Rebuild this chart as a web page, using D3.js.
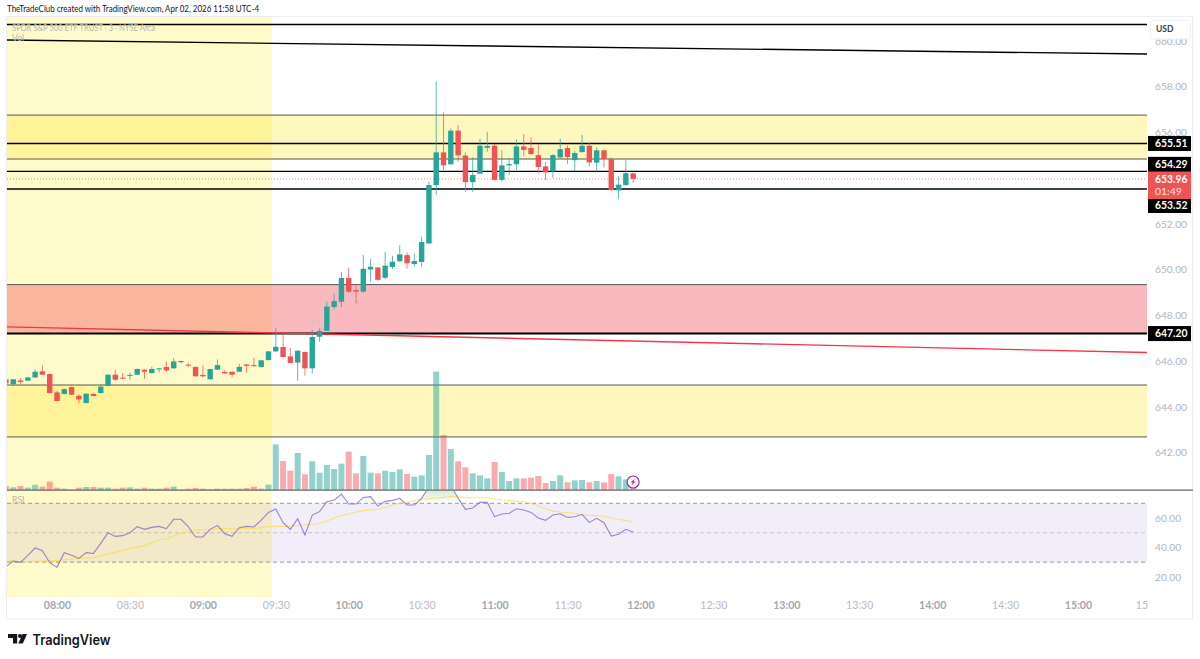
<!DOCTYPE html>
<html><head><meta charset="utf-8">
<script src="https://cdnjs.cloudflare.com/ajax/libs/d3/7.8.5/d3.min.js"></script>
<style>html,body{margin:0;padding:0;background:#fff}svg{display:block}</style>
</head><body><svg id="c" width="1200" height="659"></svg>
<script>
const firstBarMinute = 459, barMinutes = 3;
const opens=[645.20,644.99,645.15,645.14,645.28,645.55,645.43,644.63,644.56,644.86,644.48,644.16,644.56,644.60,644.91,645.40,645.27,645.36,645.40,645.62,645.47,645.65,645.74,645.68,645.95,645.84,645.74,645.39,645.20,645.62,645.52,645.53,645.53,645.85,645.82,645.74,646.04,646.42,646.61,646.20,645.93,646.39,645.68,647.06,647.32,648.36,648.59,649.63,649.10,649.03,650.00,650.09,649.64,650.11,650.36,650.63,650.24,650.33,651.14,653.69,655.12,654.60,656.07,654.98,653.82,654.19,655.32,655.41,653.92,654.55,654.60,655.38,655.31,655.00,654.51,654.29,654.90,655.31,654.78,655.13,655.41,654.67,655.21,654.83,653.46,653.69,654.20];
const highs=[645.23,645.20,645.24,645.31,645.63,645.81,645.45,644.70,644.80,644.88,644.56,644.58,644.59,645.00,645.43,645.63,645.47,645.49,645.67,645.64,645.75,645.69,645.98,646.14,646.01,645.93,645.77,645.81,645.66,646.07,645.60,645.55,645.87,645.87,646.14,646.04,646.43,647.44,647.18,646.57,646.46,646.41,647.35,647.43,648.59,648.96,649.89,650.09,649.35,650.63,650.46,650.11,650.78,650.60,651.07,650.75,650.69,651.43,653.84,658.21,656.87,656.17,656.31,655.12,654.90,655.72,656.02,655.49,655.22,654.86,655.69,655.92,655.77,655.47,654.71,655.05,655.73,655.42,655.18,655.88,655.56,655.34,655.23,654.90,654.08,654.79,654.24];
const lows=[644.99,644.91,644.99,645.12,645.27,645.39,644.58,644.24,644.54,644.51,644.15,644.15,644.46,644.58,644.89,645.12,645.20,645.17,645.39,645.23,645.46,645.50,645.52,645.66,645.90,645.75,645.31,645.28,645.18,645.60,645.43,645.28,645.52,645.49,645.74,645.72,646.03,646.39,646.16,645.90,645.14,645.36,645.46,646.84,647.31,648.26,648.36,648.98,648.55,648.98,649.47,649.51,649.57,650.03,650.34,650.03,650.12,650.12,651.10,653.26,654.35,654.58,654.71,653.40,653.40,654.17,655.15,653.89,653.84,654.13,654.35,654.96,655.00,654.20,653.91,654.01,654.88,654.61,654.30,655.11,654.49,654.27,654.46,653.45,653.09,653.67,653.79];
const closes=[645.02,645.20,645.08,645.28,645.53,645.40,644.60,644.25,644.77,644.53,644.32,644.57,644.47,644.88,645.40,645.18,645.23,645.39,645.65,645.53,645.65,645.68,645.59,645.98,646.00,645.81,645.33,645.33,645.65,645.82,645.46,645.40,645.74,645.79,645.78,646.03,646.42,646.62,646.17,645.91,646.45,645.68,647.05,647.31,648.38,648.62,649.63,649.03,649.03,650.03,650.12,649.55,650.17,650.34,650.66,650.27,650.37,651.20,653.69,655.12,654.55,656.07,654.99,653.82,654.13,655.41,655.40,653.91,654.55,654.61,655.38,655.23,655.05,654.48,654.24,655.00,655.26,654.92,655.09,655.41,654.68,655.21,654.83,653.47,653.71,654.21,653.96];
const volumes=[12,8,12,7,16,10,25,7,4,1,7,9,9,7,7,4,7,8,4,7,4,4,7,10,1,4,6,4,2,4,4,4,4,6,10,4,16,137,87,58,111,47,86,52,75,63,79,115,50,102,52,50,58,54,62,48,40,44,105,355,165,123,86,68,50,44,35,84,54,27,35,35,37,42,21,27,44,23,29,30,23,27,23,48,41,32,14];
const rsiValues=[26.9,30.7,29.8,34.6,39.6,37.8,29.6,26.6,36.4,34.6,32.5,36.4,35.9,42.7,50,47.5,48,50,54.1,52.3,53.6,54.3,52.7,59.1,59.1,54.1,47.1,47.1,52.3,55,49.3,47.5,53.4,54.3,53.9,58.6,63.8,66.1,56.8,52.3,59.5,48.4,62,64.3,71.1,72.2,76.3,69.5,69.5,74,74.5,68.1,71.3,72,73.4,68.8,68.8,73.4,81.3,85.8,84.7,82.4,73.4,65.9,66.8,70.6,70.6,60.9,62.7,63.2,66.3,65.4,63.8,60,58.4,62,62.9,60.4,60.9,62.5,57,59.8,56.8,47.7,48.9,52.3,50.5];
const rsiMa=[31.9,30.7,30,30.3,30.5,30.7,31,31.2,31.6,32.1,32.5,32.8,33,34.1,35.5,36.6,37.8,39.1,40.2,41.2,43,45,45.7,47.7,49.5,50.7,51.8,52,52.3,52.7,52.9,52.7,52.7,52.9,52.9,53.4,54.1,54.3,54.3,54.5,54.8,55.2,55.7,56.3,57.9,59.8,61.6,62.7,64.1,65,65.4,65.9,67.2,68.8,70,70.9,71.8,72.9,73.1,73.6,74,74.7,74.5,74,73.8,73.8,73.8,72.9,72.2,71.8,71.5,71.1,70,68.1,66.3,64.7,64.1,63.6,63.2,62.2,61.8,61.6,61.3,60.2,59.1,58.2,57.3];
const priceTicks=[660,658,656,654,652,650,648,646,644,642];
const rsiTicks=[60,40,20];
const rsiBands=[70,50,30];
const timeTicks=[480,510,540,570,600,630,660,690,720,750,780,810,840,870,900,930];
const timeLabels=["08:00","08:30","09:00","09:30","10:00","10:30","11:00","11:30","12:00","12:30","13:00","13:30","14:00","14:30","15:00","15"];
const yellowZones=[[656.75,654.83],[644.95,642.68]];
const pinkZone=[649.34,647.22];
const levelLines=[660.71,655.51,654.29,653.52,647.20];
const lastPrice=653.96;
const sessionEndMinute=568.4;
const blackTrend=[[459.4,660.03],[928.4,659.42]];
const redTrend=[[459.4,647.49],[928.4,646.37]];
const tags=[["655.51",655.51,0],["654.29",654.29,-7],["653.52",653.52,16.5],["647.20",647.20,0]];

const L=7,R=1147,T=17,PB=490,RB=597,FR=1193,FB=619.5;
const GREEN="#26a69a",RED="#f05353";
const FONT="Lato,sans-serif";
const svg=d3.select("#c").style("font-family",FONT);
const x=d3.scaleLinear().domain([480,900]).range([57,1078]);
const y=d3.scaleLinear().domain([658,642]).range([86.5,452.5]);
const vy=d3.scaleLinear().domain([0,355]).range([PB,371.7]);
const ry=d3.scaleLinear().domain([70,30]).range([503.3,562.1]);
const bars=opens.map((o,i)=>({t:firstBarMinute+i*barMinutes,o,h:highs[i],l:lows[i],c:closes[i],v:volumes[i],r:rsiValues[i],m:rsiMa[i]}));

const defs=svg.append("defs");
defs.append("clipPath").attr("id","main").append("rect").attr("x",L).attr("y",T).attr("width",R-L).attr("height",PB-T);
defs.append("clipPath").attr("id","rsi").append("rect").attr("x",L).attr("y",PB+1).attr("width",R-L).attr("height",RB-PB-1);
const gr=defs.append("linearGradient").attr("id","ob").attr("gradientUnits","userSpaceOnUse").attr("x1",0).attr("x2",0).attr("y1",491).attr("y2",ry(70));
gr.append("stop").attr("offset",0).attr("stop-color","#4caf50").attr("stop-opacity",.22);
gr.append("stop").attr("offset",1).attr("stop-color","#4caf50").attr("stop-opacity",.02);

// header
svg.append("text").attr("x",7).attr("y",12).attr("font-size",9).attr("textLength",252).attr("lengthAdjust","spacingAndGlyphs").attr("fill","#131722").text("TheTradeClub created with TradingView.com, Apr 02, 2026 11:58 UTC-4");

// frame
svg.append("rect").attr("x",L-.5).attr("y",T-.5).attr("width",FR-L).attr("height",FB-T).attr("fill","#fff").attr("stroke","#eceef2");

// session rectangle
svg.append("rect").attr("x",L).attr("y",T).attr("width",x(sessionEndMinute)-L).attr("height",RB-T).attr("fill","#ffeb3b").attr("fill-opacity",.27);

const main=svg.append("g").attr("clip-path","url(#main)");
// zones
main.selectAll(".yz").data(yellowZones).join("rect").attr("x",L).attr("width",R-L)
  .attr("y",d=>y(d[0])).attr("height",d=>y(d[1])-y(d[0])).attr("fill","#ffeb3b").attr("fill-opacity",.33);
main.selectAll(".yzl").data(yellowZones.flat()).join("line").attr("x1",L).attr("x2",R).attr("y1",d=>y(d)).attr("y2",d=>y(d)).attr("stroke","#555").attr("stroke-width",1);
main.append("rect").attr("x",L).attr("width",R-L).attr("y",y(pinkZone[0])).attr("height",y(pinkZone[1])-y(pinkZone[0])).attr("fill","#f23645").attr("fill-opacity",.35);
main.append("line").attr("x1",L).attr("x2",R).attr("y1",y(pinkZone[0])).attr("y2",y(pinkZone[0])).attr("stroke","#555");

// volume
main.selectAll(".vol").data(bars).join("rect").attr("x",d=>x(d.t)-3).attr("width",6)
  .attr("y",d=>vy(d.v)).attr("height",d=>PB-vy(d.v))
  .attr("fill",d=>d.c>=d.o?"#26a69a":"#f23645").attr("fill-opacity",d=>d.c>=d.o?.5:.42);

// levels and trend lines
main.selectAll(".lvl").data(levelLines).join("line").attr("x1",L).attr("x2",R).attr("y1",d=>y(d)).attr("y2",d=>y(d))
  .attr("stroke","#000").attr("stroke-width",d=>d===647.20?2:1.4);
const tl=d3.line().x(d=>x(d[0])).y(d=>y(d[1]));
main.append("path").attr("d",tl(blackTrend)).attr("stroke","#000").attr("stroke-width",1.4).attr("fill","none");
main.append("path").attr("d",tl(redTrend)).attr("stroke","#f23645").attr("stroke-width",1.4).attr("fill","none");
main.append("line").attr("x1",L).attr("x2",R).attr("y1",y(lastPrice)).attr("y2",y(lastPrice)).attr("stroke",RED).attr("stroke-opacity",.7).attr("stroke-dasharray","1 2");

// candles
main.selectAll(".wick").data(bars).join("line").attr("x1",d=>x(d.t)).attr("x2",d=>x(d.t)).attr("y1",d=>y(d.h)).attr("y2",d=>y(d.l))
  .attr("stroke",d=>d.c>=d.o?GREEN:RED).attr("stroke-opacity",.75).attr("stroke-width",1);
main.selectAll(".body").data(bars).join("rect").attr("x",d=>x(d.t)-2.7).attr("width",5.4)
  .attr("y",d=>y(Math.max(d.o,d.c))).attr("height",d=>Math.max(1,Math.abs(y(d.o)-y(d.c))))
  .attr("fill",d=>d.c>=d.o?GREEN:RED);

// legend
const leg=svg.append("g").attr("fill","#b6b7ad").attr("font-size",8.6);
leg.append("text").attr("x",12).attr("y",31).attr("textLength",143).attr("lengthAdjust","spacingAndGlyphs").text("SPDR S&P 500 ETF TRUST · 3 · NYSE Arca");
leg.append("text").attr("x",12).attr("y",41).text("Vol");
leg.append("text").attr("x",12).attr("y",503).text("RSI");

// bolt icon
const ic=svg.append("g").attr("transform",`translate(${x(bars[bars.length-1].t)},482)`);
ic.append("circle").attr("r",6).attr("fill","#fff").attr("stroke","#9c27b0").attr("stroke-width",1.2);
ic.append("path").attr("d","M1.8,-3.6L-2.6,0.6L-0.2,0.6L-1.8,3.6L2.6,-0.6L0.2,-0.6Z").attr("fill","#9c27b0");

// pane separator
svg.append("line").attr("x1",L).attr("x2",FR).attr("y1",PB+.2).attr("y2",PB+.2).attr("stroke","#666").attr("stroke-width",1.2);

// rsi pane
const rp=svg.append("g").attr("clip-path","url(#rsi)");
rp.append("rect").attr("x",L).attr("width",R-L).attr("y",ry(70)).attr("height",ry(30)-ry(70)).attr("fill","#7e57c2").attr("fill-opacity",.1);
rp.selectAll(".band").data(rsiBands).join("line").attr("x1",L).attr("x2",R).attr("y1",d=>ry(d)).attr("y2",d=>ry(d))
  .attr("stroke","#787b86").attr("stroke-opacity",d=>d===50?.35:.75).attr("stroke-dasharray","4 3");
rp.append("path").attr("d",d3.area().x(d=>x(d.t)).y0(ry(70)).y1(d=>ry(Math.max(d.r,70)))(bars)).attr("fill","url(#ob)");
rp.append("path").attr("d",d3.line().x(d=>x(d.t)).y(d=>ry(d.m))(bars)).attr("fill","none").attr("stroke","#fdd835").attr("stroke-opacity",.65).attr("stroke-width",1.1);
rp.append("path").attr("d",d3.line().x(d=>x(d.t)).y(d=>ry(d.r))(bars)).attr("fill","none").attr("stroke","#7e57c2").attr("stroke-opacity",.72).attr("stroke-width",1.1);

// axes
const styleAxis=g=>{g.select(".domain").remove();g.selectAll(".tick line").remove();g.selectAll("text").attr("fill","#b2b5be").attr("font-family",FONT);};
svg.append("g").attr("transform",`translate(${R},0)`).call(d3.axisRight(y).tickValues(priceTicks).tickSize(0).tickPadding(8).tickFormat(d=>d.toFixed(2))).call(styleAxis).selectAll("text").attr("font-size",10.2);
svg.append("g").attr("transform",`translate(${R},0)`).call(d3.axisRight(ry).tickValues(rsiTicks).tickSize(0).tickPadding(8).tickFormat(d=>d.toFixed(2))).call(styleAxis).selectAll("text").attr("font-size",10.2);
const xa=svg.append("g").attr("transform",`translate(0,${RB})`).call(d3.axisBottom(x).tickValues(timeTicks).tickSize(0).tickPadding(4).tickFormat((d,i)=>timeLabels[i])).call(styleAxis);
xa.selectAll("text").attr("font-size",10.6).attr("font-weight",d=>d%60===0?700:400).attr("fill",d=>d%60===0?"#a4a7b0":"#b8bbc3");
xa.selectAll(".tick").filter(d=>d===930).attr("transform",`translate(1142,0)`);

// usd box
svg.append("rect").attr("x",1150.5).attr("y",20.5).attr("width",40).attr("height",18.5).attr("rx",3).attr("fill","#fff").attr("stroke","#eef0f3");
svg.append("text").attr("x",1156).attr("y",32).attr("font-size",8.5).attr("font-weight",700).attr("fill","#3a3f4b").text("USD");

// price tags
const tg=svg.append("g");
tg.selectAll("rect").data(tags).join("rect").attr("x",1148).attr("width",43).attr("height",15)
  .attr("y",d=>y(d[1])+d[2]-7.5).attr("fill","#000");
tg.selectAll("text").data(tags).join("text").attr("x",1155).attr("y",d=>y(d[1])+d[2]+3.8)
  .attr("font-size",10.4).attr("font-weight",700).attr("fill","#fff").text(d=>d[0]);
svg.append("rect").attr("x",1148).attr("width",43).attr("y",171.7).attr("height",27.3).attr("fill",RED);
svg.append("text").attr("x",1155).attr("y",y(lastPrice)+3.8).attr("font-size",10.4).attr("font-weight",700).attr("fill","#fff").text(lastPrice.toFixed(2));
svg.append("text").attr("x",1155).attr("y",195).attr("font-size",10.4).attr("fill","#ffe3e5").text("01:49");

// logo
const lg=svg.append("g").attr("fill","#131722");
lg.append("path").attr("d","M8,634H17.2V643.5H13V638H8Z");
lg.append("circle").attr("cx",20).attr("cy",636).attr("r",2);
lg.append("path").attr("d","M22.5,634H27L22.8,643.5H18.3Z");
lg.append("text").attr("x",32.5).attr("y",644.5).attr("font-family","Inter,sans-serif").attr("font-size",14).attr("font-weight",600).attr("textLength",78).attr("lengthAdjust","spacingAndGlyphs").text("TradingView");
</script></body></html>
